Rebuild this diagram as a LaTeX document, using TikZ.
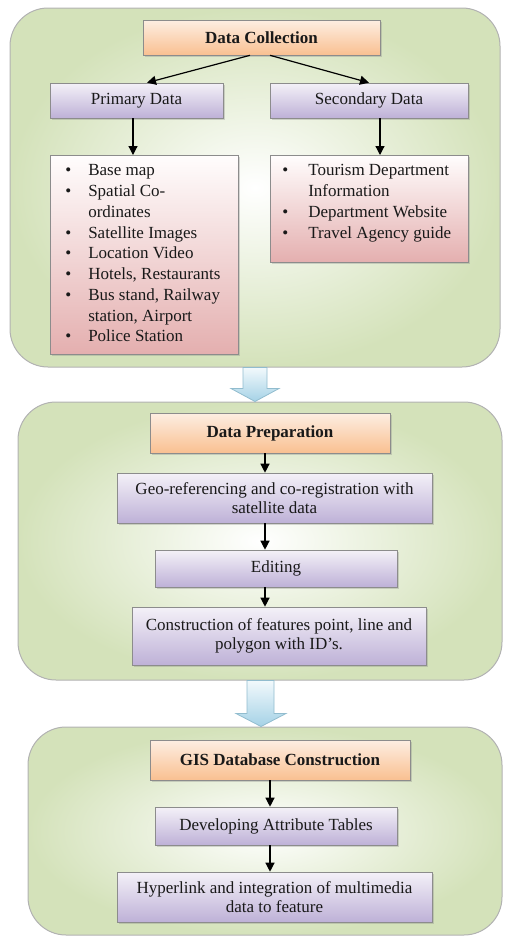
\documentclass[tikz,border=0pt]{standalone}
\usepackage{fontspec}
\setmainfont{Liberation Serif}
\usetikzlibrary{shadows,arrows.meta,calc}
\definecolor{panelgreen}{RGB}{212,226,186}
\definecolor{panelline}{RGB}{178,178,178}
\definecolor{orTop}{RGB}{253,238,226}
\definecolor{orBot}{RGB}{249,192,145}
\definecolor{puTop}{RGB}{244,241,248}
\definecolor{puBot}{RGB}{190,177,215}
\definecolor{piTop}{RGB}{255,253,253}
\definecolor{piBot}{RGB}{228,175,175}
\definecolor{boxline}{RGB}{140,140,140}
\definecolor{blTop}{RGB}{242,249,252}
\definecolor{blBot}{RGB}{165,210,230}
\definecolor{blLine}{RGB}{145,188,206}
\begin{document}
\begin{tikzpicture}[x=1pt,y=-1pt,
 panel/.style={draw=panelline, line width=1pt, rounded corners=38pt, inner sep=0pt, inner color=white, outer color=panelgreen},
 basebox/.style={draw=boxline, line width=0.6pt, inner sep=0pt, align=center, text=black!90,
   font=\fontsize{17}{19.5}\selectfont, drop shadow={opacity=0.3,shadow xshift=1.5pt,shadow yshift=-2pt}},
 headbox/.style={basebox, top color=orTop, bottom color=orBot, font=\fontsize{17}{19.5}\selectfont\bfseries},
 stepbox/.style={basebox, top color=puTop, bottom color=puBot},
 listbox/.style={basebox, top color=piTop, bottom color=piBot, align=left, inner ysep=6pt,
   font=\fontsize{17}{20.75}\selectfont},
 arr/.style={line width=1.2pt, -{Triangle[length=9pt,width=9pt]}},
 bigarrow/.style={draw=blLine, line width=0.8pt, top color=blTop, bottom color=blBot}]
\useasboundingbox (0,0) rectangle (504,938);

% panels
\node[panel, minimum width=490, minimum height=359] (p1) at (255,187.5) {};
\node[panel, minimum width=484, minimum height=278] (p2) at (260,541) {};
\node[panel, minimum width=474, minimum height=208] (p3) at (265,831) {};

% block arrows between panels
\coordinate (a1s) at (p1.south);
\coordinate (a1e) at (p2.north -| p1.south);
\draw[bigarrow] ($(a1s)+(-12,0)$) -- ($(a1s)+(12,0)$) -- ($(a1e)+(12,-13)$) -- ($(a1e)+(24,-13)$)
  -- (a1e) -- ($(a1e)+(-24,-13)$) -- ($(a1e)+(-12,-13)$) -- cycle;
\coordinate (a2s) at (p2.south);
\coordinate (a2e) at (p3.north -| p2.south);
\draw[bigarrow] ($(a2s)+(-13,0)$) -- ($(a2s)+(14,0)$) -- ($(a2e)+(14,-13)$) -- ($(a2e)+(26,-13)$)
  -- ($(a2e)+(1,0)$) -- ($(a2e)+(-24,-13)$) -- ($(a2e)+(-13,-13)$) -- cycle;

% panel 1
\node[headbox, minimum width=237, minimum height=35] (dc) at (261.5,37.5) {Data Collection};
\node[stepbox, minimum width=173, minimum height=35] (pd) at (136.5,100.5) {Primary Data};
\node[stepbox, minimum width=198, minimum height=35] (sd) at (369,100.5) {Secondary Data};
\node[listbox, anchor=north west] (pl) at (50,155) {%
\begin{tabular}{@{\hspace{15pt}}p{23pt}@{}p{150pt}@{}}
\textbullet & Base map\\
\textbullet & Spatial Co-\\
 & ordinates\\
\textbullet & Satellite Images\\
\textbullet & Location Video\\
\textbullet & Hotels, Restaurants\\
\textbullet & Bus stand, Railway\\
 & station, Airport\\
\textbullet & Police Station
\end{tabular}};
\node[listbox, anchor=north west] (sl) at (270,155) {%
\begin{tabular}{@{\hspace{12pt}}p{26pt}@{}p{160pt}@{}}
\textbullet & Tourism Department\\
 & Information\\
\textbullet & Department Website\\
\textbullet & Travel Agency guide\rule[-18pt]{0pt}{1pt}
\end{tabular}};

\coordinate (dlx) at (250,0);
\coordinate (drx) at (270,0);
\coordinate (plx) at (147,0);
\coordinate (cpx) at (133,0);
\coordinate (csx) at (380,0);
\draw[arr] (dc.south -| dlx) -- (pd.north -| plx);
\draw[arr] (dc.south -| drx) -- (sd.north);
\draw[arr] (pd.south -| cpx) -- (pl.north -| cpx);
\draw[arr] (sd.south -| csx) -- (sl.north -| csx);

% panel 2
\node[headbox, minimum width=240, minimum height=40] (dp) at (270,433) {Data Preparation};
\node[stepbox, minimum width=315, minimum height=50] (geo) at (274.5,498) {Geo-referencing and co-registration with\\satellite data};
\node[stepbox, minimum width=242, minimum height=37] (ed) at (276,568.5) {Editing};
\node[stepbox, minimum width=294, minimum height=58] (con) at (279,636) {Construction of features point, line and\\polygon with ID’s.};
\coordinate (c1) at (265,0);
\draw[arr] (dp.south -| c1) -- (geo.north -| c1);
\draw[arr] (geo.south -| c1) -- (ed.north -| c1);
\draw[arr] (ed.south -| c1) -- (con.north -| c1);

% panel 3
\node[headbox, minimum width=260, minimum height=40] (gis) at (280,760) {GIS Database Construction};
\node[stepbox, minimum width=242, minimum height=38] (dev) at (276,826) {Developing Attribute Tables};
\node[stepbox, minimum width=315, minimum height=50] (hyp) at (274.5,897) {Hyperlink and integration of multimedia\\data to feature};
\coordinate (c2) at (270,0);
\draw[arr] (gis.south -| c2) -- (dev.north -| c2);
\draw[arr] (dev.south -| c2) -- (hyp.north -| c2);
\end{tikzpicture}
\end{document}
